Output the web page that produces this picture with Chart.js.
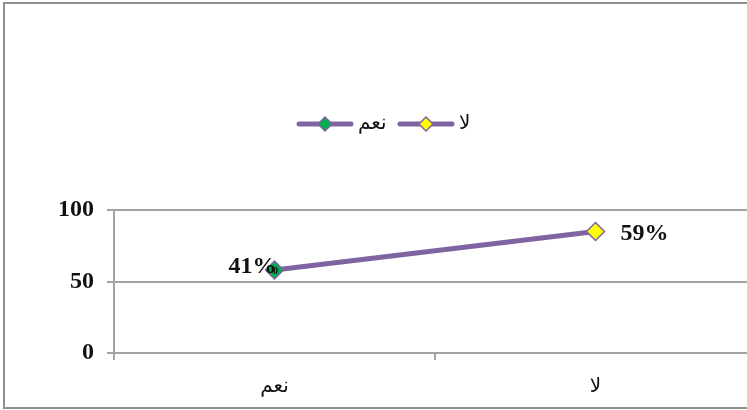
<!DOCTYPE html>
<html>
<head>
<meta charset="utf-8">
<script src="https://cdn.jsdelivr.net/npm/chart.js@4"></script>
<style>
  body { margin: 0; overflow: hidden; background: #fff; }
  #frame { position: absolute; left: 3px; top: 2px; width: 820px; height: 403px; border: 2px solid #8f8f8f; }
  #wrap { position: absolute; left: 0; top: 0; width: 790px; height: 410px; }
</style>
</head>
<body>
<div id="frame"></div>
<div id="wrap"><canvas id="chart" width="790" height="410"></canvas></div>
<script>
// data
const categories = ['نعم', 'لا']
const values = [58, 85]
const pointLabels = ['41%', '59%']
const pointColors = ['#00B050', '#FFFF00']
const yTicks = [0, 50, 100]

const lineColor = '#8064A2'
const gridColor = '#a3a3a3'
const serif = "Liberation Serif, Times New Roman, serif"
const arabic = "DejaVu Sans, sans-serif"

// small legend icon: line with a diamond in the middle
function legendIcon(fill) {
  const c = document.createElement('canvas')
  c.width = 58; c.height = 16
  const g = c.getContext('2d')
  g.strokeStyle = lineColor; g.lineWidth = 5; g.lineCap = 'round'
  g.beginPath(); g.moveTo(3, 8); g.lineTo(55, 8); g.stroke()
  g.fillStyle = fill; g.lineWidth = 1.5
  g.beginPath(); g.moveTo(29, 1); g.lineTo(36, 8); g.lineTo(29, 15); g.lineTo(22, 8); g.closePath()
  g.fill(); g.stroke()
  return c
}

//START custom legend + labels
const extras = {
  id: 'extras',
  afterDatasetsDraw(chart) {
    const ctx = chart.ctx
    const meta = chart.getDatasetMeta(0)
    ctx.save()
    ctx.fillStyle = '#111'
    ctx.font = 'bold 24px ' + serif
    ctx.textBaseline = 'middle'
    meta.data.forEach((pt, i) => {
      if (i == 0) {
        ctx.textAlign = 'right'
        ctx.fillText(pointLabels[i], pt.x + 2, pt.y - 3)
      } else {
        ctx.textAlign = 'left'
        ctx.fillText(pointLabels[i], pt.x + 25, pt.y + 2)
      }
    })
    // tiny 0 in the first marker
    const p0 = meta.data[0]
    ctx.font = 'bold 10px ' + serif
    ctx.textAlign = 'center'
    ctx.fillText('0', p0.x + 1, p0.y + 1)

    // legend
    const legendX = [297, 398]
    ctx.font = '20px ' + arabic
    ctx.textAlign = 'left'
    categories.forEach((cat, i) => {
      ctx.drawImage(legendIcon(pointColors[i]), legendX[i] - 1, 116)
      ctx.fillText(cat, legendX[i] + 61, 124)
    })
    ctx.restore()
  }
}
//END custom legend + labels

new Chart(document.getElementById('chart'), {
  type: 'line',
  data: {
    labels: categories,
    datasets: [{
      data: values,
      borderColor: lineColor,
      borderWidth: 5,
      pointStyle: 'rectRot',
      pointRadius: 9,
      pointBorderWidth: 1.5,
      pointBorderColor: lineColor,
      pointBackgroundColor: pointColors,
      fill: false,
      tension: 0
    }]
  },
  plugins: [extras],
  options: {
    responsive: false,
    animation: false,
    layout: { padding: { top: 210, right: 34, left: 0, bottom: 0 } },
    plugins: { legend: { display: false }, tooltip: { enabled: false } },
    scales: {
      x: {
        offset: true,
        afterFit: s => { s.height = 57 },
        grid: { offset: true, drawOnChartArea: false, tickLength: 7, color: gridColor, lineWidth: 2 },
        border: { color: gridColor, width: 2 },
        ticks: { color: '#111', padding: 15, font: { size: 20, family: arabic } }
      },
      y: {
        min: 0,
        max: 100,
        afterFit: s => { s.width = 114 },
        afterBuildTicks: s => { s.ticks = yTicks.map(v => ({ value: v })) },
        grid: { tickLength: 7, color: gridColor, lineWidth: 2 },
        border: { color: gridColor, width: 2 },
        ticks: { color: '#111', padding: 13, font: { size: 24, family: serif, weight: 'bold' } }
      }
    }
  }
})
</script>
</body>
</html>
